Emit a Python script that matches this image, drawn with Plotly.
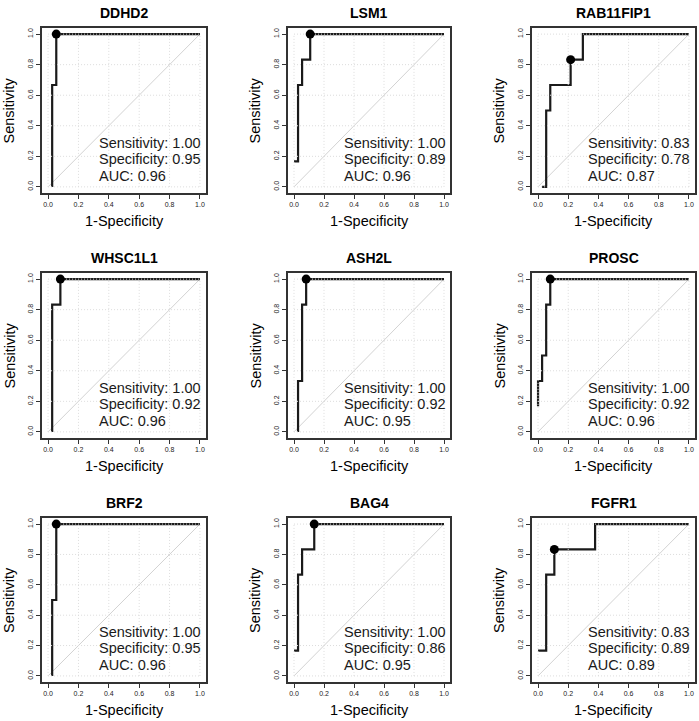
import plotly.graph_objects as go

# ---------------- data ----------------
genes = ["DDHD2", "LSM1", "RAB11FIP1", "WHSC1L1", "ASH2L", "PROSC", "BRF2", "BAG4", "FGFR1"]

# ROC curve vertices (1-Specificity, Sensitivity)
fpr_DDHD2 = [0.027, 0.027, 0.054, 0.054, 1.0]
tpr_DDHD2 = [0.0, 0.667, 0.667, 1.0, 1.0]
fpr_LSM1 = [0.0, 0.027, 0.027, 0.054, 0.054, 0.108, 0.108, 1.0]
tpr_LSM1 = [0.167, 0.167, 0.667, 0.667, 0.833, 0.833, 1.0, 1.0]
fpr_RAB11FIP1 = [0.027, 0.054, 0.054, 0.081, 0.081, 0.216, 0.216, 0.297, 0.297, 1.0]
tpr_RAB11FIP1 = [0.0, 0.0, 0.5, 0.5, 0.667, 0.667, 0.833, 0.833, 1.0, 1.0]
fpr_WHSC1L1 = [0.027, 0.027, 0.081, 0.081, 1.0]
tpr_WHSC1L1 = [0.0, 0.833, 0.833, 1.0, 1.0]
fpr_ASH2L = [0.027, 0.027, 0.054, 0.054, 0.081, 0.081, 1.0]
tpr_ASH2L = [0.0, 0.333, 0.333, 0.833, 0.833, 1.0, 1.0]
fpr_PROSC = [0.0, 0.0, 0.027, 0.027, 0.054, 0.054, 0.081, 0.081, 1.0]
tpr_PROSC = [0.167, 0.333, 0.333, 0.5, 0.5, 0.833, 0.833, 1.0, 1.0]
fpr_BRF2 = [0.027, 0.027, 0.054, 0.054, 1.0]
tpr_BRF2 = [0.0, 0.5, 0.5, 1.0, 1.0]
fpr_BAG4 = [0.0, 0.027, 0.027, 0.054, 0.054, 0.135, 0.135, 1.0]
tpr_BAG4 = [0.167, 0.167, 0.667, 0.667, 0.833, 0.833, 1.0, 1.0]
fpr_FGFR1 = [0.0, 0.054, 0.054, 0.108, 0.108, 0.378, 0.378, 1.0]
tpr_FGFR1 = [0.167, 0.167, 0.667, 0.667, 0.833, 0.833, 1.0, 1.0]

fpr_curves = [fpr_DDHD2, fpr_LSM1, fpr_RAB11FIP1, fpr_WHSC1L1, fpr_ASH2L,
              fpr_PROSC, fpr_BRF2, fpr_BAG4, fpr_FGFR1]
tpr_curves = [tpr_DDHD2, tpr_LSM1, tpr_RAB11FIP1, tpr_WHSC1L1, tpr_ASH2L,
              tpr_PROSC, tpr_BRF2, tpr_BAG4, tpr_FGFR1]

# best cut-off points
best_fpr = [0.054, 0.108, 0.216, 0.081, 0.081, 0.081, 0.054, 0.135, 0.108]
best_tpr = [1.0, 1.0, 0.833, 1.0, 1.0, 1.0, 1.0, 1.0, 0.833]

sensitivity = ["1.00", "1.00", "0.83", "1.00", "1.00", "1.00", "1.00", "1.00", "0.83"]
specificity = ["0.95", "0.89", "0.78", "0.92", "0.92", "0.92", "0.95", "0.86", "0.89"]
auc = ["0.96", "0.96", "0.87", "0.96", "0.95", "0.96", "0.96", "0.95", "0.89"]

tick_vals = [0.0, 0.2, 0.4, 0.6, 0.8, 1.0]
tick_text = ["0.0", "0.2", "0.4", "0.6", "0.8", "1.0"]

# ---------------- layout ----------------
W, H = 699, 721
col_px = [(42, 206), (288, 450), (532, 695)]
row_px = [(28, 193), (273, 438), (518, 682)]
FONT = "Liberation Sans, Arial, Helvetica, sans-serif"

fig = go.Figure()
layout = dict(
    width=W, height=H, margin=dict(l=0, r=0, t=0, b=0),
    paper_bgcolor="white", plot_bgcolor="white", showlegend=False,
    font=dict(family=FONT, color="black"),
)
annotations = []

for i, g in enumerate(genes):
    r, c = divmod(i, 3)
    n = "" if i == 0 else str(i + 1)
    xa, ya = "x" + n, "y" + n
    x0, x1 = col_px[c]
    y0, y1 = row_px[r]
    common = dict(
        range=[-0.04, 1.04], tickvals=tick_vals, ticktext=tick_text,
        showgrid=False, zeroline=False, showline=True, mirror=True,
        linecolor="#333333", linewidth=1.5, ticks="outside", ticklen=4,
        tickwidth=1, tickcolor="#333333",
        tickfont=dict(size=7, family=FONT, color="#222222"),
        fixedrange=True,
    )
    layout["xaxis" + n] = dict(common, domain=[x0 / W, x1 / W], anchor=ya)
    layout["yaxis" + n] = dict(common, domain=[1 - y1 / H, 1 - y0 / H], anchor=xa,
                                tickangle=-90)

    # diagonal reference
    fig.add_trace(go.Scatter(x=[0, 1], y=[0, 1], mode="lines", xaxis=xa, yaxis=ya,
                             line=dict(color="#d3d3d3", width=1), hoverinfo="skip"))
    # ROC curve
    fig.add_trace(go.Scatter(x=fpr_curves[i], y=tpr_curves[i], mode="lines",
                             xaxis=xa, yaxis=ya,
                             line=dict(color="#1a1a1a", width=2.2)))
    # dotted grid drawn on top (as in R grid())
    for v in tick_vals:
        fig.add_trace(go.Scatter(x=[v, v], y=[0, 1], mode="lines", xaxis=xa, yaxis=ya,
                                 line=dict(color="#dcdcdc", width=1, dash="1px,2px"),
                                 hoverinfo="skip"))
        fig.add_trace(go.Scatter(x=[0, 1], y=[v, v], mode="lines", xaxis=xa, yaxis=ya,
                                 line=dict(color="#dcdcdc", width=1, dash="1px,2px"),
                                 hoverinfo="skip"))
    # best point
    fig.add_trace(go.Scatter(x=[best_fpr[i]], y=[best_tpr[i]], mode="markers",
                             xaxis=xa, yaxis=ya,
                             marker=dict(color="black", size=9)))

    # panel title
    annotations.append(dict(text="<b>%s</b>" % g, xref=xa + " domain", yref=ya + " domain",
                            x=0.5, y=1, yshift=15, showarrow=False,
                            xanchor="center", yanchor="middle",
                            font=dict(size=14, family=FONT, color="black")))
    # axis titles
    annotations.append(dict(text="1-Specificity", xref=xa + " domain", yref=ya + " domain",
                            x=0.5, y=0, yshift=-28, showarrow=False,
                            xanchor="center", yanchor="middle",
                            font=dict(size=14.5, family=FONT, color="black")))
    annotations.append(dict(text="Sensitivity", xref=xa + " domain", yref=ya + " domain",
                            x=0, y=0.5, xshift=-33, showarrow=False, textangle=-90,
                            xanchor="center", yanchor="middle",
                            font=dict(size=14.5, family=FONT, color="black")))
    # stats text
    stats = ["Sensitivity: " + sensitivity[i], "Specificity: " + specificity[i],
             "AUC: " + auc[i]]
    for k, s in enumerate(stats):
        annotations.append(dict(text=s, xref=xa, yref=ya, x=0.32, y=0.29 - 0.108 * k,
                                showarrow=False, xanchor="left", yanchor="middle",
                                font=dict(size=14.5, family=FONT, color="#1a1a1a")))

layout["annotations"] = annotations
fig.update_layout(**layout)
fig.write_html(
    "out.html",
    config={"displayModeBar": False},
    post_script="document.body.style.margin='0';document.body.style.padding='0';"
                "document.body.style.overflow='hidden';",
)
